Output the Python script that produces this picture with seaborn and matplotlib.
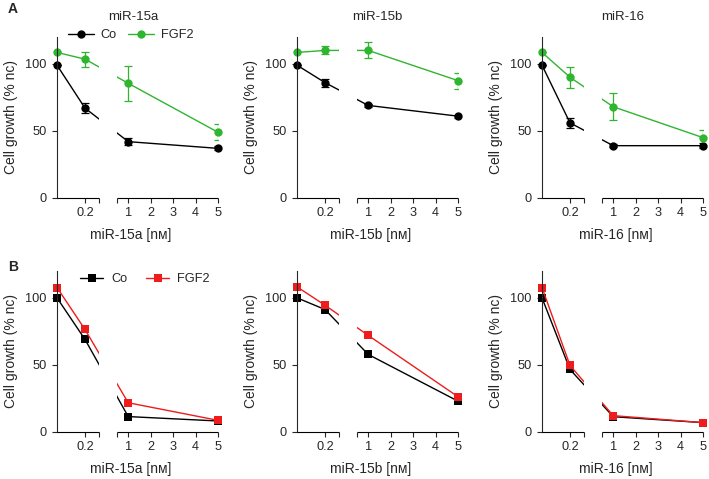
"""
Cell growth vs miR dose, Co vs FGF2 (broken x-axis panels)
"""

# Dependencies
import numpy as np
import pandas as pd
import seaborn as sns
import matplotlib
matplotlib.use('Agg')
import matplotlib.pyplot as plt
from matplotlib.lines import Line2D

# Data
dose = [0, 0.2, 1, 5]
mirs = ['miR-15a', 'miR-15b', 'miR-16']

# Row A: circles with SEM
a_co = {'miR-15a': [99, 67, 42, 37],
        'miR-15b': [99, 86, 69, 61],
        'miR-16': [99, 56, 39, 39]}
a_co_err = {'miR-15a': [0, 4, 2.5, 1.5],
            'miR-15b': [0, 3, 1, 1],
            'miR-16': [0, 4, 1, 2]}
a_fgf = {'miR-15a': [108.5, 103.5, 85.5, 49],
         'miR-15b': [108.5, 110, 110, 87.5],
         'miR-16': [108.5, 90, 68, 45]}
a_fgf_err = {'miR-15a': [0, 5.5, 13, 6],
             'miR-15b': [0, 3, 6, 6],
             'miR-16': [0, 8, 10, 6]}

# Row B: squares, no error bars
b_co = {'miR-15a': [100, 69, 11.5, 8.2],
        'miR-15b': [100, 91.3, 57.8, 23],
        'miR-16': [100, 46.6, 11.4, 7]}
b_fgf = {'miR-15a': [107.7, 76.4, 21.8, 8.7],
         'miR-15b': [108.2, 94.5, 72, 26.3],
         'miR-16': [107.7, 49.6, 12.2, 7]}

green = '#2fb52f'
red = '#ee1c1c'

sns.set_style('ticks')
plt.rcParams['font.family'] = ['Liberation Sans', 'DejaVu Sans']
plt.rcParams['axes.linewidth'] = 0.8


# piecewise x scale: 0-0.3 | gap | 0.5-5
def fwd(x):
    x = np.asarray(x, dtype=float)
    return np.where(x <= 0.3, x / 0.3 * 42,
                    np.where(x < 0.5, 42 + (x - 0.3) * 90, 60 + (x - 0.5) * (101 / 4.5)))


def inv(y):
    y = np.asarray(y, dtype=float)
    return np.where(y <= 42, y / 42 * 0.3,
                    np.where(y < 60, 0.3 + (y - 42) / 90, 0.5 + (y - 60) * 4.5 / 101))


W, H = 709, 479
fig = plt.figure(figsize=(W / 100, H / 100), dpi=100)

lefts = [57, 297, 542]
tops = [37, 271]


def make_ax(left, top):
    ax = fig.add_axes([left / W, 1 - (top + 161) / H, 161 / W, 161 / H])
    ax.set_xscale('function', functions=(fwd, inv))
    ax.set_xlim(0, 5)
    ax.set_ylim(0, 120)
    return ax


def style_ax(ax, mir):
    sns.despine(ax=ax)
    ax.spines['bottom'].set_visible(False)
    ax.hlines([0, 0], [0, 0.5], [0.3, 5], color='black', lw=0.8, clip_on=False, zorder=3)
    ax.axvspan(0.3, 0.5, color='white', lw=0, zorder=2.2)
    ax.set_xticks([0.2, 0.3, 0.5, 1, 2, 3, 4, 5])
    ax.set_xticklabels(['0.2', '', '', '1', '2', '3', '4', '5'])
    ax.set_yticks([0, 50, 100])
    ax.tick_params(direction='out', length=3.7, width=0.8, labelsize=9.2)
    ax.tick_params(axis='x', pad=3)
    ax.tick_params(axis='y', pad=4)
    ax.minorticks_off()
    ax.set_xlabel(mir + ' [nм]', fontsize=10, labelpad=6, x=0.46)
    ax.set_ylabel('Cell growth (% nc)', fontsize=10, labelpad=5)


for i, mir in enumerate(mirs):
    # Row A
    ax = make_ax(lefts[i], tops[0])
    df = pd.DataFrame({'dose': dose * 2,
                       'growth': a_co[mir] + a_fgf[mir],
                       'group': ['Co'] * 4 + ['FGF2'] * 4})
    sns.lineplot(data=df, x='dose', y='growth', hue='group',
                 palette={'Co': 'black', 'FGF2': green}, estimator=None,
                 marker='o', markersize=6, markeredgewidth=0, linewidth=1,
                 legend=False, ax=ax, clip_on=False, zorder=2)
    ax.errorbar(dose, a_co[mir], yerr=a_co_err[mir], fmt='none', ecolor='black',
                elinewidth=0.9, capsize=3, capthick=0.9, zorder=1.9)
    ax.errorbar(dose, a_fgf[mir], yerr=a_fgf_err[mir], fmt='none', ecolor=green,
                elinewidth=0.9, capsize=3, capthick=0.9, zorder=1.9)
    style_ax(ax, mir)
    ax.text(0.475 if i == 0 else 0.5, 1 + 20 / 161, mir, transform=ax.transAxes,
            ha='center', va='center', fontsize=9.5)
    if i == 0:
        handles = [Line2D([], [], color='black', marker='o', markersize=6, lw=1, markeredgewidth=0),
                   Line2D([], [], color=green, marker='o', markersize=6, lw=1, markeredgewidth=0)]
        ax.legend(handles, ['Co', 'FGF2'], loc='center left', bbox_to_anchor=(0.069, 1.012),
                  ncol=2, frameon=False, fontsize=9.2, handlelength=2.0, handletextpad=0.55,
                  columnspacing=0.9, borderpad=0, borderaxespad=0)

    # Row B
    ax = make_ax(lefts[i], tops[1])
    df = pd.DataFrame({'dose': dose * 2,
                       'growth': b_co[mir] + b_fgf[mir],
                       'group': ['Co'] * 4 + ['FGF2'] * 4})
    sns.lineplot(data=df, x='dose', y='growth', hue='group',
                 palette={'Co': 'black', 'FGF2': red}, estimator=None,
                 marker='s', markersize=5.6, markeredgewidth=0, linewidth=1,
                 legend=False, ax=ax, clip_on=False, zorder=2)
    style_ax(ax, mir)
    if i == 0:
        handles = [Line2D([], [], color='black', marker='s', markersize=5.6, lw=1, markeredgewidth=0),
                   Line2D([], [], color=red, marker='s', markersize=5.6, lw=1, markeredgewidth=0)]
        ax.legend(handles, ['Co', 'FGF2'], loc='center left', bbox_to_anchor=(0.144, 0.95),
                  ncol=2, frameon=False, fontsize=9.2, handlelength=1.8, handletextpad=0.65,
                  columnspacing=1.45, borderpad=0, borderaxespad=0)

# Panel letters
fig.text(8 / W, 1 - 9 / H, 'A', fontsize=10, weight='bold', va='center')
fig.text(8 / W, 1 - 267 / H, 'B', fontsize=10, weight='bold', va='center')

plt.savefig('out.png', dpi=100)
plt.close()
